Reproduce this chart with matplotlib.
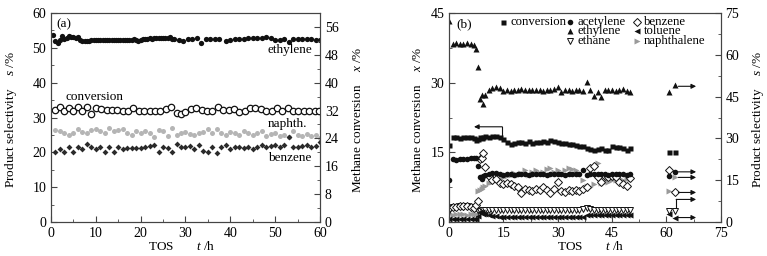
import numpy as np
import matplotlib
matplotlib.use("Agg")
from matplotlib import pyplot as plt
from matplotlib.ticker import MultipleLocator

plt.rcParams['font.family'] = ['Liberation Serif', 'DejaVu Serif']
plt.rcParams['mathtext.fontset'] = 'custom'
plt.rcParams['mathtext.it'] = 'Liberation Serif:italic'
plt.rcParams['mathtext.rm'] = 'Liberation Serif'
plt.rcParams['font.size'] = 10

# ---------------- panel (a) data ----------------
tos_eth_a = [0.5, 1.0, 1.5, 2.0, 2.5, 3.0, 3.5, 4.0, 4.5, 5.0,
             5.5, 6.0, 6.5, 7.0, 7.5, 8.0, 8.5, 9.0, 9.5, 10.0,
             10.5, 11.0, 11.5, 12.0, 12.5, 13.0, 13.5, 14.0, 14.5, 15.0,
             15.5, 16.0, 16.5, 17.0, 17.5, 18.0, 18.5, 19.0, 19.5, 20.0,
             20.5, 21.0, 21.5, 22.0, 22.5, 23.0, 23.5, 24.0, 24.5, 25.0,
             25.5, 26.0, 26.5, 27.0, 27.5, 28.5, 29.5, 30.5, 31.5, 32.5,
             33.5, 34.5, 35.5, 36.5, 37.5, 39.0, 40.0, 41.0, 42.0, 43.0,
             44.0, 45.0, 46.0, 47.0, 48.0, 49.0, 50.0, 51.0, 52.0, 53.0,
             54.0, 55.0, 56.0, 57.0, 58.0, 59.0, 60.0]
ethylene_a = [53.8, 52.0, 51.5, 52.2, 53.5, 52.5, 52.8, 53.5, 53.0, 53.2,
              52.8, 53.0, 52.3, 52.0, 52.0, 52.0, 52.0, 52.2, 52.2, 52.3,
              52.3, 52.3, 52.3, 52.3, 52.3, 52.3, 52.3, 52.3, 52.3, 52.3,
              52.3, 52.3, 52.3, 52.3, 52.3, 52.3, 52.4, 52.3, 52.0, 52.2,
              52.5, 52.5, 52.6, 52.7, 52.6, 52.8, 52.8, 52.8, 52.9, 52.8,
              52.9, 52.9, 53.0, 52.5, 52.4, 52.3, 52.0, 52.5, 52.5, 52.8,
              51.5, 52.4, 52.4, 52.4, 52.4, 52.0, 52.3, 52.5, 52.5, 52.6,
              52.8, 52.8, 52.8, 52.8, 53.0, 52.8, 52.3, 52.3, 52.4, 51.8,
              52.4, 52.6, 52.6, 52.5, 52.4, 52.2, 52.3]

tos_conv_a = [1.0, 2.0, 3.0, 4.0, 5.0, 6.0, 7.0, 8.0, 9.0, 10.0,
              11.2, 12.4, 13.6, 14.8, 16.0, 17.2, 18.4, 19.6, 20.8, 22.0,
              23.2, 24.4, 25.6, 26.8, 28.0, 29.0, 30.0, 31.2, 32.4, 33.6,
              34.8, 36.0, 37.2, 38.4, 39.6, 40.8, 42.0, 43.2, 44.4, 45.6,
              46.8, 48.0, 49.2, 50.4, 51.6, 52.8, 54.0, 55.2, 56.4, 57.6,
              58.8, 59.8]
conversion_a = [32.2, 33.0, 32.0, 32.6, 31.8, 33.0, 32.0, 33.0, 31.0, 32.6,
                32.3, 32.2, 32.2, 32.2, 32.0, 31.8, 32.8, 32.0, 32.0, 32.0,
                32.0, 32.0, 32.3, 33.0, 31.2, 31.0, 31.6, 32.3, 32.8, 32.2,
                32.0, 32.0, 32.9, 32.2, 32.2, 32.5, 31.5, 32.0, 32.6, 32.8,
                32.4, 31.8, 31.8, 32.8, 31.8, 32.6, 31.8, 32.0, 32.0, 31.8,
                31.8, 32.0]

tos_a = [1, 2, 3, 4, 5, 6, 7, 8, 9, 10,
         11, 12, 13, 14, 15, 16, 17, 18, 19, 20,
         21, 22, 23, 24, 25, 26, 27, 28, 29, 30,
         31, 32, 33, 34, 35, 36, 37, 38, 39, 40,
         41, 42, 43, 44, 45, 46, 47, 48, 49, 50,
         51, 52, 53, 54, 55, 56, 57, 58, 59, 60]
naphth_a = [26.5, 26.0, 25.5, 25.0, 25.5, 26.8, 25.8, 25.5, 26.5, 26.8,
            26.0, 25.5, 27.0, 26.0, 26.5, 26.8, 25.5, 25.0, 26.0, 25.5,
            26.0, 25.5, 24.5, 26.5, 26.0, 24.8, 27.0, 25.0, 25.5, 25.8,
            25.2, 25.0, 25.5, 25.8, 26.8, 25.5, 26.8, 25.5, 25.0, 25.8,
            25.5, 25.0, 26.0, 25.5, 25.0, 25.5, 26.0, 24.8, 25.2, 25.5,
            24.8, 25.0, 24.5, 26.0, 25.0, 24.8, 25.2, 24.8, 25.0, 24.0]
benzene_a = [20.2, 21.0, 20.0, 21.5, 20.0, 21.5, 21.0, 22.5, 21.5, 21.0,
             21.5, 20.0, 21.5, 20.0, 21.5, 21.0, 21.2, 21.3, 21.3, 21.2,
             21.5, 21.8, 22.0, 20.0, 21.5, 21.2, 20.0, 22.5, 21.5, 21.5,
             21.8, 21.0, 22.0, 20.5, 20.0, 21.5, 19.8, 21.5, 22.0, 21.0,
             21.5, 21.5, 21.2, 21.5, 21.0, 21.5, 22.0, 21.5, 21.8, 22.0,
             21.5, 22.0, 24.5, 21.5, 21.5, 21.8, 22.0, 21.5, 21.8, 23.0]

# ---------------- panel (b) data ----------------
tos_b = [0, 1, 2, 3, 4, 5, 6, 7, 7.5, 8,
         8.5, 9, 9.5, 10, 11, 12, 13, 14, 15, 16,
         17, 18, 19, 20, 21, 22, 23, 24, 25, 26,
         27, 28, 29, 30, 31, 32, 33, 34, 35, 36,
         37, 38, 39, 40, 41, 42, 43, 44, 45, 46,
         47, 48, 49, 50]
conversion_b = [16.5, 18.2, 18.3, 18.0, 18.3, 18.2, 18.3, 18.0, 17.6, 17.8,
                18.2, 18.0, 18.3, 18.5, 18.2, 18.5, 18.6, 18.2, 17.8, 17.3,
                16.9, 17.0, 17.3, 17.2, 17.0, 17.4, 17.1, 17.3, 17.2, 17.4,
                17.3, 17.6, 17.4, 17.2, 17.0, 17.1, 16.9, 16.8, 16.5, 16.4,
                16.3, 16.0, 15.7, 15.4, 15.8, 15.9, 15.6, 15.5, 16.3, 16.2,
                16.1, 16.0, 15.6, 15.9]
ethylene_b = [72.0, 64.0, 64.2, 64.0, 64.0, 64.2, 63.8, 63.5, 62.0, 55.5,
              44.0, 45.5, 42.5, 45.5, 47.3, 48.0, 48.5, 48.0, 47.0, 47.3,
              47.0, 47.5, 47.3, 47.6, 47.5, 47.2, 47.5, 47.3, 47.4, 47.0,
              47.3, 47.2, 47.8, 48.3, 46.8, 47.2, 47.3, 47.0, 47.3, 47.2,
              47.0, 50.3, 47.5, 45.2, 46.5, 45.0, 47.3, 47.5, 47.2, 47.0,
              47.5, 47.8, 47.0, 46.5]
acetylene_b = [15.0, 22.5, 22.3, 22.5, 22.6, 22.5, 22.8, 22.8, 22.8, 20.2,
               16.0, 15.5, 16.5, 17.0, 17.3, 17.5, 17.6, 17.3, 17.0, 17.2,
               17.3, 17.0, 17.2, 17.4, 17.3, 17.0, 17.3, 17.2, 17.4, 17.3,
               17.0, 17.2, 17.3, 17.4, 17.2, 17.0, 17.3, 17.2, 17.3, 17.4,
               18.8, 17.0, 17.3, 17.2, 17.4, 17.3, 17.2, 17.0, 17.3, 17.2,
               17.4, 17.3, 17.0, 17.2]
benzene_b = [5.0, 5.5, 5.5, 5.6, 5.8, 5.8, 5.5, 5.2, 6.0, 7.5,
             22.5, 23.0, 24.8, 19.8, 16.5, 15.0, 15.5, 14.0, 13.5, 14.0,
             13.5, 13.0, 12.5, 10.5, 12.0, 11.5, 11.0, 12.0, 11.5, 12.5,
             11.5, 10.5, 11.8, 14.5, 11.0, 10.8, 11.5, 11.0, 11.5, 11.2,
             12.0, 12.5, 19.5, 20.0, 16.0, 14.5, 16.5, 16.0, 16.5, 16.3,
             14.5, 13.5, 13.0, 15.8]
toluene_b = [1.0, 1.0, 1.0, 1.0, 1.0, 1.0, 1.0, 1.0, 1.0, 2.0,
             3.7, 3.5, 3.0, 2.8, 2.5, 2.2, 2.0, 1.7, 1.7, 1.7,
             1.7, 1.7, 1.7, 1.7, 1.7, 1.7, 1.7, 1.7, 1.7, 1.7,
             1.7, 1.7, 1.7, 1.7, 1.7, 1.7, 1.7, 1.7, 1.7, 1.7,
             1.7, 2.5, 2.5, 2.5, 2.5, 2.5, 2.5, 2.5, 2.5, 2.5,
             2.5, 2.5, 2.5, 2.5]
ethane_b = [4.0, 5.5, 5.5, 5.6, 5.5, 5.6, 5.5, 5.5, 5.0, 4.0,
            3.8, 4.2, 4.3, 4.2, 4.2, 4.3, 4.2, 4.2, 4.3, 4.2,
            4.2, 4.3, 4.2, 4.2, 4.3, 4.2, 4.2, 4.3, 4.2, 4.3,
            4.2, 4.2, 4.3, 4.2, 4.2, 4.3, 4.2, 4.2, 4.3, 4.4,
            4.8, 4.9, 4.5, 4.4, 4.3, 4.2, 4.3, 4.4, 4.3, 4.2,
            4.3, 4.4, 4.3, 4.2]
naphth_b = [3.0, 2.5, 3.0, 2.8, 3.0, 2.5, 3.0, 2.8, 3.0, 11.0,
            11.5, 12.0, 12.5, 13.0, 14.0, 14.5, 15.0, 15.5, 16.0, 16.5,
            17.0, 17.5, 17.0, 17.5, 18.5, 17.0, 18.0, 18.5, 17.5, 18.0,
            19.0, 19.3, 18.0, 18.5, 17.5, 18.5, 19.3, 19.0, 18.5, 17.5,
            15.0, 13.0, 12.5, 13.5, 21.0, 14.0, 14.5, 14.5, 15.0, 15.0,
            15.5, 15.0, 15.5, 15.5]

# points measured after the gap
tos_b2 = [60.8, 62.4]
conversion_b2 = [15.0, 15.0]
ethylene_b2 = [46.5, 49.0]
acetylene_b2 = [16.5, 18.0]
benzene_b2 = [18.6, 10.9]
toluene_b2 = [3.0, 1.5]
ethane_b2 = [4.0, 4.0]
naphth_b2 = [11.2, 16.0]

gray = '#9a9a9a'
dark = '#2a2a2a'
spine_c = '#444444'
lab_fs = 9.5


def style_axes(ax):
    for s in ax.spines.values():
        s.set_color(spine_c)
        s.set_linewidth(0.8)
    ax.tick_params(which='both', direction='in', color=spine_c, labelsize=10)
    ax.tick_params(which='major', length=4)
    ax.tick_params(which='minor', length=2.5)


fig = plt.figure(figsize=(7.67, 2.56), dpi=100)

# ---------------- (a) ----------------
ax1 = fig.add_axes([0.0665, 0.1328, 0.3507, 0.8164])
ax1r = ax1.twinx()
ax1.set_xlim(0, 60)
ax1.set_ylim(0, 60)
ax1r.set_ylim(0, 60)
ax1.xaxis.set_major_locator(MultipleLocator(10))
ax1.xaxis.set_minor_locator(MultipleLocator(5))
ax1.yaxis.set_major_locator(MultipleLocator(10))
ax1.yaxis.set_minor_locator(MultipleLocator(5))
ax1r.yaxis.set_major_locator(MultipleLocator(8))
ax1r.yaxis.set_minor_locator(MultipleLocator(4))
style_axes(ax1)
style_axes(ax1r)

ax1.plot(tos_a, naphth_a, 'o', color='#b5b5b5', ms=3.6, mec='none')
ax1.plot(tos_a, benzene_a, 'D', color=dark, ms=3.0, mec='none')
ax1.plot(tos_eth_a, ethylene_a, 'o', color='#111111', ms=3.8, mec='none')
ax1r.plot(tos_conv_a, conversion_a, 'o', mfc='white', mec='#111111', mew=0.9, ms=4.6)

ax1.text(1.3, 56.8, '(a)', va='center', ha='left', fontsize=lab_fs)
ax1.text(48.4, 49.3, 'ethylene', va='center', ha='left', fontsize=lab_fs)
ax1.text(3.3, 35.8, 'conversion', va='center', ha='left', fontsize=lab_fs)
ax1.text(48.4, 28.0, 'naphth.', va='center', ha='left', fontsize=lab_fs)
ax1.text(48.4, 18.3, 'benzene', va='center', ha='left', fontsize=lab_fs)

ax1.set_xlabel('TOS       $t$ /h', fontsize=lab_fs)
ax1.xaxis.set_label_coords(0.487, -0.085)
ax1.set_ylabel('Product selectivity    $s$ /%', fontsize=lab_fs)
ax1.yaxis.set_label_coords(-0.118, 0.49)
ax1r.set_ylabel('Methane conversion    $x$ /%', fontsize=lab_fs)
ax1r.yaxis.set_label_coords(1.115, 0.49)

# ---------------- (b) ----------------
ax2 = fig.add_axes([0.5854, 0.1328, 0.3543, 0.8164])
ax2r = ax2.twinx()
ax2.set_xlim(0, 75)
ax2.set_ylim(0, 45)
ax2r.set_ylim(0, 75)
for a in (ax2, ax2r):
    a.yaxis.set_major_locator(MultipleLocator(15))
    a.yaxis.set_minor_locator(MultipleLocator(7.5))
ax2.xaxis.set_major_locator(MultipleLocator(15))
ax2.xaxis.set_minor_locator(MultipleLocator(7.5))
style_axes(ax2)
style_axes(ax2r)

ms_b = 4.0
styles = {
    'naphthalene': dict(marker='>', color=gray, ms=ms_b, mec='none'),
    'ethane': dict(marker='v', mfc='white', mec='#111111', mew=0.7, ms=ms_b),
    'toluene': dict(marker='<', color='#111111', ms=ms_b, mec='none'),
    'benzene': dict(marker='D', mfc='white', mec='#111111', mew=0.7, ms=3.8),
    'acetylene': dict(marker='o', color='#111111', ms=ms_b, mec='none'),
    'ethylene': dict(marker='^', color='#111111', ms=ms_b + 0.6, mec='none'),
    'conversion': dict(marker='s', color='#111111', ms=3.6, mec='none'),
}
ax2r.plot(tos_b + tos_b2, naphth_b + naphth_b2, ls='none', **styles['naphthalene'])
ax2r.plot(tos_b + tos_b2, ethane_b + ethane_b2, ls='none', **styles['ethane'])
ax2r.plot(tos_b + tos_b2, toluene_b + toluene_b2, ls='none', **styles['toluene'])
ax2r.plot(tos_b + tos_b2, benzene_b + benzene_b2, ls='none', **styles['benzene'])
ax2r.plot(tos_b + tos_b2, acetylene_b + acetylene_b2, ls='none', **styles['acetylene'])
ax2r.plot(tos_b + tos_b2, ethylene_b + ethylene_b2, ls='none', **styles['ethylene'])
ax2.plot(tos_b + tos_b2, conversion_b + conversion_b2, ls='none', **styles['conversion'])

# arrows indicating axes
arr = dict(arrowstyle='-|>', color='#111111', lw=0.8, mutation_scale=7, shrinkA=0, shrinkB=0)
ax2.plot([14.7, 14.7], [18.7, 20.5], color='#111111', lw=0.8)
ax2.annotate('', xy=(6.9, 20.5), xytext=(14.7, 20.5), arrowprops=arr)
for y0 in (48.7, 18.0, 16.0, 10.6, 1.6):
    ax2r.annotate('', xy=(68.2, y0), xytext=(63.3, y0), arrowprops=arr)
ax2r.plot([62.7, 62.7], [5.1, 8.1], color='#111111', lw=0.8)
ax2r.annotate('', xy=(68.2, 8.1), xytext=(62.7, 8.1), arrowprops=arr)

# legend laid out by hand (rows overlap tightly in the original)
leg_fs = 9.2
leg_items = [('conversion', 0.200, 0.957), ('acetylene', 0.447, 0.957),
             ('benzene', 0.691, 0.957), ('ethylene', 0.447, 0.912),
             ('toluene', 0.691, 0.912), ('ethane', 0.447, 0.866),
             ('naphthalene', 0.691, 0.866)]
for name, lx, ly in leg_items:
    ax2.plot([lx], [ly], transform=ax2.transAxes, ls='none', clip_on=False,
             **styles[name])
    ax2.text(lx + 0.026, ly, name, transform=ax2.transAxes, va='center',
             ha='left', fontsize=leg_fs)

ax2.text(2.0, 42.6, '(b)', va='center', ha='left', fontsize=lab_fs)
ax2.set_xlabel('TOS       $t$ /h', fontsize=lab_fs)
ax2.xaxis.set_label_coords(0.52, -0.085)
ax2.set_ylabel('Methane conversion    $x$ /%', fontsize=lab_fs)
ax2.yaxis.set_label_coords(-0.092, 0.49)
ax2r.set_ylabel('Product selectivity    $s$ /%', fontsize=lab_fs)
ax2r.yaxis.set_label_coords(1.108, 0.49)

fig.savefig('out.png', dpi=100)
